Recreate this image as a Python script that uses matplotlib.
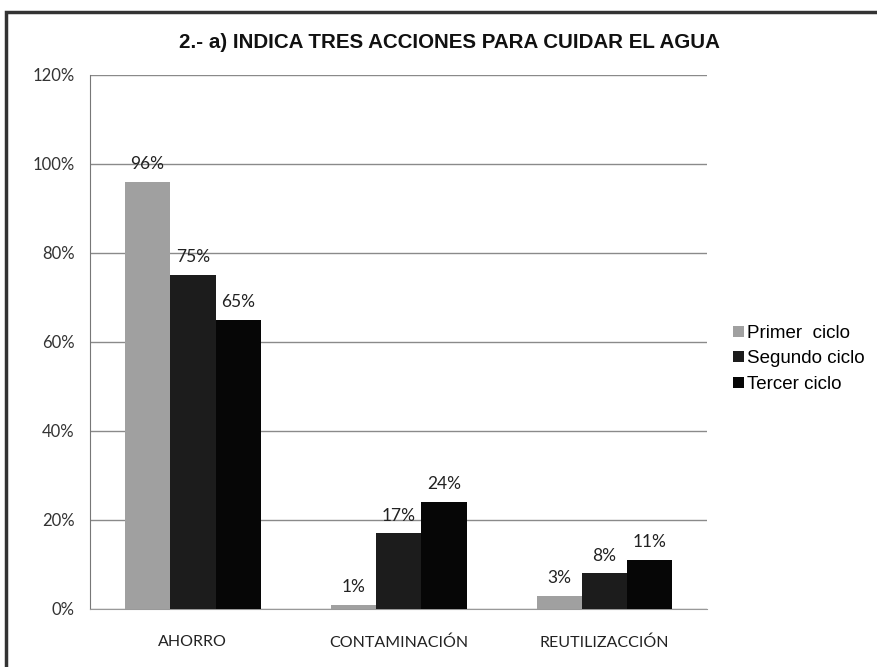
import numpy as np
import matplotlib
matplotlib.use('Agg')
import matplotlib.pyplot as plt
from matplotlib.patches import Rectangle

# datos
categorias = ['AHORRO', 'CONTAMINACIÓN', 'REUTILIZACCIÓN']
series = ['Primer  ciclo', 'Segundo ciclo', 'Tercer ciclo']
primer = [96, 1, 3]
segundo = [75, 17, 8]
tercer = [65, 24, 11]
yticks = [0, 20, 40, 60, 80, 100, 120]

colores = ['#a0a0a0', '#1c1c1c', '#060606']

fig = plt.figure(figsize=(8.77, 6.67), dpi=100)
ax = fig.add_axes([0.1026, 0.087, 0.704, 0.801])

x = np.arange(len(categorias))
w = 0.22
for i, (vals, col, nom) in enumerate(zip([primer, segundo, tercer], colores, series)):
    barras = ax.bar(x + (i - 1) * w, vals, w, color=col, label=nom, zorder=3)
    for b, v in zip(barras, vals):
        ax.annotate(f'{v}%', (b.get_x() + b.get_width() / 2, v),
                    xytext=(0, 7), textcoords='offset points',
                    ha='center', va='bottom', fontsize=12.5,
                    family='Lato', color='#222222', zorder=4)

ax.set_xlim(-0.5, 2.5)
ax.set_ylim(0, 120)
ax.set_yticks(yticks)
ax.set_yticklabels([f'{t}%' for t in yticks], family='Lato', fontsize=12, color='#333333')
ax.set_xticks(x)
ax.set_xticklabels(categorias, family='Lato', fontsize=11.5, color='#222222')
ax.tick_params(axis='x', length=0, pad=19)
ax.tick_params(axis='y', length=0, pad=11)
ax.grid(axis='y', color='#8a8a8a', linewidth=1.0, zorder=0)
for s in ['top', 'right']:
    ax.spines[s].set_visible(False)
ax.spines['left'].set_color('#777777')
ax.spines['bottom'].set_color('#999999')

fig.text(0.512, 0.937, '2.- a) INDICA TRES ACCIONES PARA CUIDAR EL AGUA',
         ha='center', va='center', fontsize=14.8, fontweight='bold',
         family='Liberation Sans', color='#111111')

leg = ax.legend(loc='center left', bbox_to_anchor=(1.042, 0.468), frameon=False,
                prop={'family': 'Liberation Sans', 'size': 13.5},
                handlelength=0.55, handleheight=0.55, handletextpad=0.2,
                labelspacing=0.45, borderpad=0, borderaxespad=0)

# marco del grafico
fig.patches.append(Rectangle((0.007, -0.02), 1.2, 1.002, transform=fig.transFigure,
                             fill=False, edgecolor='#333333', linewidth=2.5))

fig.savefig('out.png', dpi=100)
